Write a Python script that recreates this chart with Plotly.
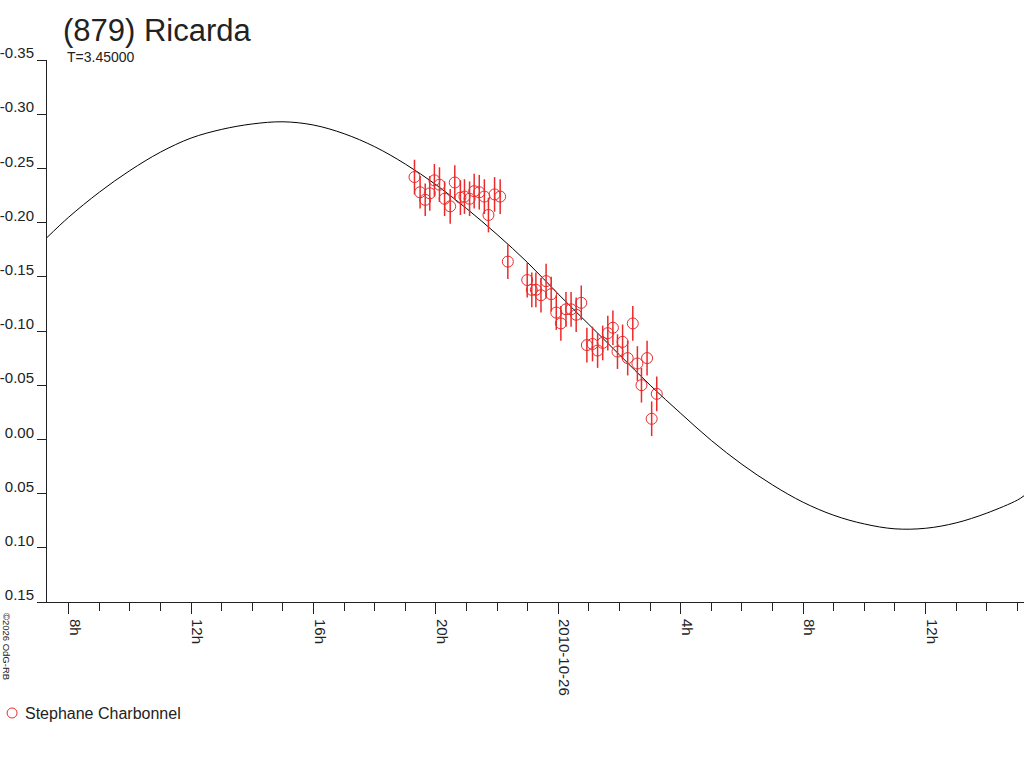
import plotly.graph_objects as go

# observations (Stephane Charbonnel)
obs_time = [
    "2010-10-25 19:18", "2010-10-25 19:29", "2010-10-25 19:39", "2010-10-25 19:48",
    "2010-10-25 19:57", "2010-10-25 20:07", "2010-10-25 20:17", "2010-10-25 20:28",
    "2010-10-25 20:37", "2010-10-25 20:48", "2010-10-25 20:56", "2010-10-25 21:06",
    "2010-10-25 21:15", "2010-10-25 21:25", "2010-10-25 21:35", "2010-10-25 21:43",
    "2010-10-25 21:55", "2010-10-25 22:06", "2010-10-25 22:21", "2010-10-25 22:59",
    "2010-10-25 23:08", "2010-10-25 23:16", "2010-10-25 23:26", "2010-10-25 23:36",
    "2010-10-25 23:46", "2010-10-25 23:56", "2010-10-26 00:05", "2010-10-26 00:15",
    "2010-10-26 00:25", "2010-10-26 00:35", "2010-10-26 00:45", "2010-10-26 00:56",
    "2010-10-26 01:07", "2010-10-26 01:17", "2010-10-26 01:27", "2010-10-26 01:37",
    "2010-10-26 01:47", "2010-10-26 01:56", "2010-10-26 02:06", "2010-10-26 02:16",
    "2010-10-26 02:26", "2010-10-26 02:35", "2010-10-26 02:43", "2010-10-26 02:54",
    "2010-10-26 03:03", "2010-10-26 03:13",
]
obs_mag = [
    -0.242, -0.228, -0.221, -0.227, -0.239, -0.235, -0.222, -0.215,
    -0.237, -0.223, -0.224, -0.222, -0.229, -0.228, -0.224, -0.207,
    -0.226, -0.224, -0.164, -0.147, -0.138, -0.138, -0.133, -0.146,
    -0.134, -0.117, -0.107, -0.120, -0.120, -0.115, -0.126, -0.087,
    -0.088, -0.082, -0.089, -0.098, -0.103, -0.081, -0.090, -0.075,
    -0.107, -0.070, -0.050, -0.075, -0.019, -0.042,
]
obs_err = [
    0.016, 0.015, 0.015, 0.016, 0.015, 0.016, 0.016, 0.016,
    0.016, 0.016, 0.016, 0.016, 0.016, 0.016, 0.016, 0.016,
    0.016, 0.016, 0.016, 0.016, 0.016, 0.016, 0.016, 0.016,
    0.016, 0.016, 0.016, 0.016, 0.016, 0.016, 0.016, 0.016,
    0.016, 0.016, 0.016, 0.016, 0.016, 0.016, 0.016, 0.016,
    0.016, 0.016, 0.016, 0.016, 0.016, 0.016,
]

# fitted light curve
curve_time = [
    "2010-10-25 07:17", "2010-10-25 08:00", "2010-10-25 09:00", "2010-10-25 10:00",
    "2010-10-25 11:00", "2010-10-25 12:00", "2010-10-25 13:00", "2010-10-25 14:00",
    "2010-10-25 15:00", "2010-10-25 16:00", "2010-10-25 17:00", "2010-10-25 18:00",
    "2010-10-25 19:00", "2010-10-25 20:00", "2010-10-25 21:00", "2010-10-25 22:00",
    "2010-10-25 23:00", "2010-10-26 00:00", "2010-10-26 01:00", "2010-10-26 02:00",
    "2010-10-26 03:00", "2010-10-26 04:00", "2010-10-26 05:00", "2010-10-26 06:00",
    "2010-10-26 07:00", "2010-10-26 08:00", "2010-10-26 09:00", "2010-10-26 10:00",
    "2010-10-26 11:00", "2010-10-26 12:00", "2010-10-26 13:00", "2010-10-26 14:00",
    "2010-10-26 15:00", "2010-10-26 15:13",
]
curve_mag = [
    -0.186, -0.205, -0.228, -0.248, -0.265, -0.278, -0.286, -0.291,
    -0.293, -0.290, -0.282, -0.270, -0.254, -0.235, -0.213, -0.189,
    -0.163, -0.134, -0.106, -0.078, -0.050, -0.024, 0.001, 0.023,
    0.042, 0.058, 0.070, 0.078, 0.0825, 0.082, 0.077, 0.068,
    0.056, 0.052,
]

x_tickvals = [
    "2010-10-25 08:00", "2010-10-25 12:00", "2010-10-25 16:00", "2010-10-25 20:00",
    "2010-10-26 00:00", "2010-10-26 04:00", "2010-10-26 08:00", "2010-10-26 12:00",
]
x_ticktext = ["8h", "12h", "16h", "20h", "2010-10-26", "4h", "8h", "12h"]
y_tickvals = [-0.35, -0.30, -0.25, -0.20, -0.15, -0.10, -0.05, 0.00, 0.05, 0.10, 0.15]
y_ticktext = ["-0.35", "-0.30", "-0.25", "-0.20", "-0.15", "-0.10", "-0.05",
              "0.00", "0.05", "0.10", "0.15"]

RED = "#ec2a2a"
FONT = "Liberation Sans"

fig = go.Figure()
fig.add_trace(go.Scatter(
    x=curve_time, y=curve_mag, mode="lines",
    line=dict(color="black", width=1, shape="spline"),
    showlegend=False, hoverinfo="skip",
))
fig.add_trace(go.Scatter(
    x=obs_time, y=obs_mag, mode="markers", name="Stephane Charbonnel",
    marker=dict(symbol="circle-open", size=11, color=RED, line=dict(width=1, color=RED)),
    error_y=dict(type="data", array=obs_err, color=RED, thickness=1.5, width=0),
    showlegend=False,
))

fig.update_layout(
    width=1024, height=768,
    margin=dict(l=45, r=0, t=60, b=166),
    plot_bgcolor="white", paper_bgcolor="white",
    font=dict(family=FONT, color="#222"),
    title=dict(text="(879) Ricarda", x=63 / 1024, xanchor="left", xref="container",
               y=1 - 30 / 768, yanchor="middle", font=dict(size=31, color="#222")),
    xaxis=dict(
        type="date",
        range=["2010-10-25 07:17:30", "2010-10-26 15:13:00"],
        tickmode="array", tickvals=x_tickvals, ticktext=x_ticktext,
        tickangle=90, ticks="outside", ticklen=11, tickcolor="#222",
        tickfont=dict(size=15, family=FONT, color="#222"),
        ticklabelshift=6, ticklabelstandoff=2,
        minor=dict(dtick=3600000, tick0="2010-10-25", ticks="outside",
                   ticklen=8, tickcolor="#222", showgrid=False),
        showline=True, linecolor="#222", linewidth=1,
        showgrid=False, zeroline=False,
    ),
    yaxis=dict(
        range=[0.15, -0.35],
        tickmode="array", tickvals=y_tickvals, ticktext=y_ticktext,
        ticks="outside", ticklen=9, tickcolor="#222",
        tickfont=dict(size=15, family=FONT, color="#222"),
        ticklabelshift=7, ticklabelstandoff=0,
        showline=True, linecolor="#222", linewidth=1,
        showgrid=False, zeroline=False,
    ),
    annotations=[
        dict(text="T=3.45000", xref="paper", yref="paper",
             x=(63 - 45) / 979, y=1 + (60 - 57) / 542, xanchor="left", yanchor="middle",
             showarrow=False, font=dict(size=14, color="#222")),
        dict(text="©2026 OdG-RB", xref="paper", yref="paper",
             x=(5 - 45) / 979, y=-(646 - 602) / 542, xanchor="center", yanchor="middle",
             textangle=90, showarrow=False, font=dict(size=9.5, color="#222")),
        dict(text="Stephane Charbonnel", xref="paper", yref="paper",
             x=(21 - 45) / 979, y=-(713 - 602) / 542, xanchor="left", yanchor="middle",
             showarrow=False, font=dict(size=16, color="#222")),
    ],
    shapes=[
        dict(type="circle", xref="paper", yref="paper",
             x0=(5 - 45) / 979, x1=(15 - 45) / 979,
             y0=-(708 - 602) / 542, y1=-(718 - 602) / 542,
             line=dict(color=RED, width=1)),
    ],
)

fig.write_html("out.html", config={"displayModeBar": False},
               post_script="document.body.style.margin='0px';")
